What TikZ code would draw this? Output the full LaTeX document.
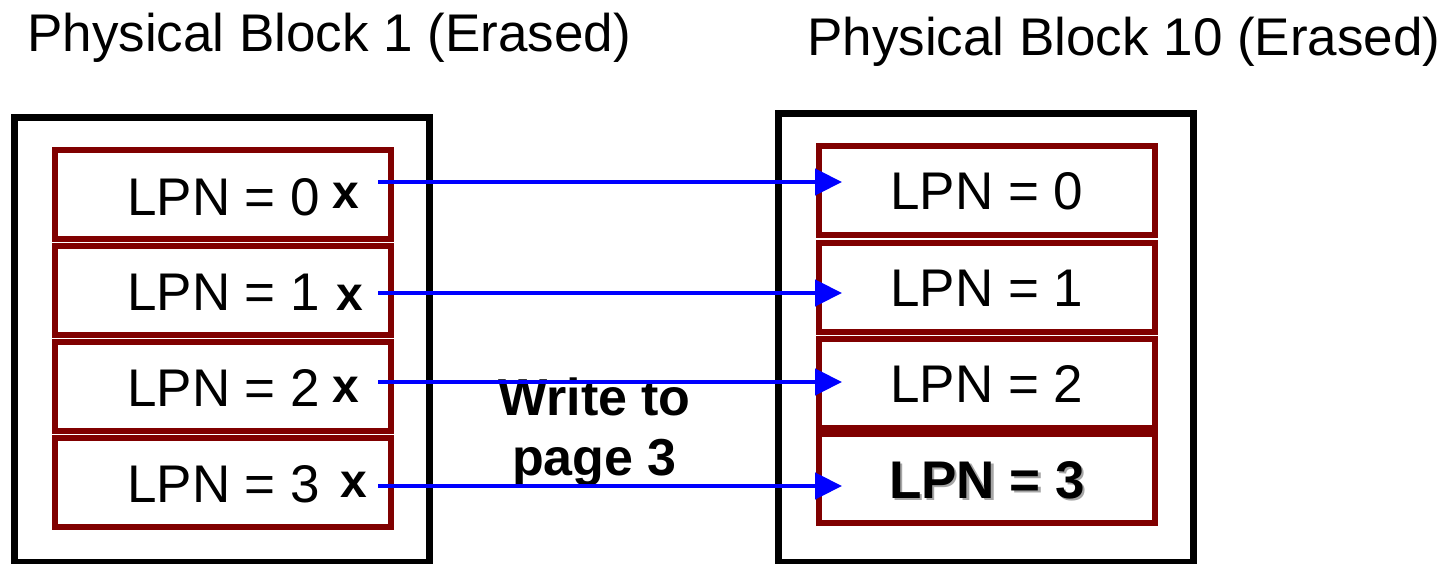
\documentclass[tikz,border=0pt]{standalone}
\usepackage{fontspec}
\setmainfont{Liberation Sans}
\usetikzlibrary{arrows.meta}
\definecolor{boxred}{HTML}{800000}
\definecolor{arrowblue}{HTML}{0000FF}
\begin{document}
\begin{tikzpicture}[x=1pt,y=-1pt,
  blockframe/.style={draw=black,line width=7pt,fill=white,inner sep=0pt,
    minimum width=415pt},
  pagebox/.style={draw=boxred,line width=6pt,fill=white,inner sep=0pt,
    minimum width=336pt,minimum height=89pt},
  titletext/.style={font=\fontsize{53}{60}\selectfont,inner sep=0pt,anchor=base west},
  lpntext/.style={font=\fontsize{53}{60}\selectfont,inner sep=0pt},
  marktext/.style={font=\fontsize{48}{56}\selectfont\bfseries,inner sep=0pt,anchor=base west},
  writetext/.style={font=\fontsize{52}{60}\selectfont\bfseries,inner sep=0pt,anchor=base},
  moveline/.style={draw=arrowblue,line width=4.5pt,
    -{Triangle[length=27pt,width=26pt]}}]
\useasboundingbox (0,0) rectangle (1450,564);

% block titles
\node[titletext] (t1) at (27,52) {Physical Block 1 (Erased)};
\node[titletext] (t10) at (807,56) {Physical Block 10 (Erased)};

% outer block frames
\node[blockframe,minimum height=444pt] (blk1) at (221.5,340) {};
\node[blockframe,minimum height=448pt] (blk10) at (985.5,338) {};

% pages of block 1
\node[pagebox] (l0) at (223,194.5) {};
\node[pagebox] (l1) at (223,290) {};
\node[pagebox] (l2) at (223,386.5) {};
\node[pagebox] (l3) at (223,482.5) {};

% pages of block 10
\node[pagebox] (r0) at (987,190.5) {};
\node[pagebox] (r1) at (987,287) {};
\node[pagebox] (r2) at (987,383) {};
\node[pagebox] (r3) at (987,478.5) {};

% labels in block 1, each page marked invalid
\node[lpntext,anchor=base west] (l0t) at (127,215) {LPN = 0};
\node[lpntext,anchor=base west] (l1t) at (127,310) {LPN = 1};
\node[lpntext,anchor=base west] (l2t) at (127,406) {LPN = 2};
\node[lpntext,anchor=base west] (l3t) at (127,502) {LPN = 3};
\node[marktext] (x0) at (332.5,208) {x};
\node[marktext] (x1) at (336.5,310) {x};
\node[marktext] (x2) at (332.5,402) {x};
\node[marktext] (x3) at (340.5,497) {x};

% labels in block 10
\node[lpntext,anchor=base] (r0t) at (987,210) {LPN = 0};
\node[lpntext,anchor=base] (r1t) at (987,306) {LPN = 1};
\node[lpntext,anchor=base] (r2t) at (987,402) {LPN = 2};
\node[lpntext,anchor=base,font=\fontsize{53}{60}\selectfont\bfseries,text=black!35]
  (r3s) at (989.5,500.5) {LPN = 3};
\node[lpntext,anchor=base,font=\fontsize{53}{60}\selectfont\bfseries]
  (r3t) at (987,498) {LPN = 3};

% caption of the copy
\node[writetext] (w1) at (594.5,415) {Write to};
\node[writetext] (w2) at (594.5,475) {page 3};

% copy arrows
\coordinate (s0) at (378,182);
\coordinate (s1) at (378,293);
\coordinate (s2) at (378,382);
\coordinate (s3) at (378,486);
\coordinate (e0) at (842,182);
\coordinate (e1) at (842,293);
\coordinate (e2) at (842,382);
\coordinate (e3) at (842,486);
\draw[moveline] (s0) -- (e0);
\draw[moveline] (s1) -- (e1);
\draw[moveline] (s2) -- (e2);
\draw[moveline] (s3) -- (e3);
\end{tikzpicture}
\end{document}
